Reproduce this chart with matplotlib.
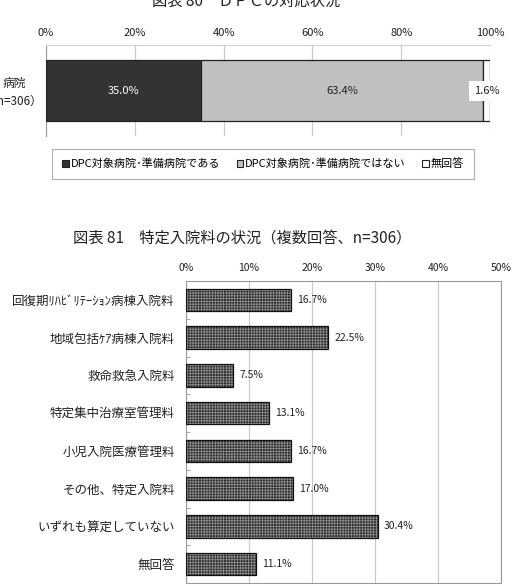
import matplotlib
matplotlib.use("Agg")
import matplotlib.pyplot as plt
from matplotlib.patches import Patch
import numpy as np

plt.rcParams['font.family'] = ['Noto Sans CJK JP', 'DejaVu Sans']
plt.rcParams['hatch.linewidth'] = 0.6

# ---- data: chart 80 ----
dpc_title = "図表 80　ＤＰＣの対応状況"
dpc_row_label = "病院\n（n=306）"
dpc_series = ["DPC対象病院･準備病院である", "DPC対象病院･準備病院ではない", "無回答"]
dpc_values = [35.0, 63.4, 1.6]
dpc_colors = ["#333333", "#c0c0c0", "#ffffff"]
dpc_ticks = [0, 20, 40, 60, 80, 100]

# ---- data: chart 81 ----
fee_title = "図表 81　特定入院料の状況（複数回答、n=306）"
fee_categories = ["回復期ﾘﾊﾋﾞﾘﾃｰｼｮﾝ病棟入院料", "地域包括ｹｱ病棟入院料", "救命救急入院料",
                  "特定集中治療室管理料", "小児入院医療管理料", "その他、特定入院料",
                  "いずれも算定していない", "無回答"]
fee_values = [16.7, 22.5, 7.5, 13.1, 16.7, 17.0, 30.4, 11.1]
fee_ticks = [0, 10, 20, 30, 40, 50]

W, H = 516, 586
fig = plt.figure(figsize=(W / 100, H / 100), dpi=100)

def fx(px):
    return px / W

def fy(py):
    return 1 - py / H

# ================= Chart 80 =================
ax1 = fig.add_axes([fx(46), fy(136), fx(490) - fx(46), (136 - 45) / H])
left = 0
for v, c, name in zip(dpc_values, dpc_colors, dpc_series):
    ax1.barh([0], [v], left=[left], height=1.0, color=c, edgecolor="#222222",
             linewidth=0.9, zorder=3, label=name)
    left += v
ax1.set_xlim(0, 100)
ax1.set_ylim(-0.75, 0.75)
ax1.xaxis.tick_top()
ax1.set_xticks(dpc_ticks)
ax1.set_xticklabels([f"{t}%" for t in dpc_ticks], fontsize=8, color="#222222")
ax1.tick_params(axis='x', length=0, pad=5)
ax1.set_yticks([])
ax1.grid(axis='x', color="#c8c8c8", linewidth=0.8, zorder=0)
for s in ["bottom", "right"]:
    ax1.spines[s].set_visible(False)
ax1.spines["top"].set_color("#d0d0d0")
ax1.spines["left"].set_color("#999999")
ax1.spines["left"].set_linewidth(0.8)

# value labels
starts = np.cumsum([0] + dpc_values[:-1])
ax1.text(starts[0] + dpc_values[0] / 2, 0, f"{dpc_values[0]:.1f}%", ha="center", va="center",
         fontsize=8, color="white", zorder=5)
ax1.text(starts[1] + dpc_values[1] / 2, 0, f"{dpc_values[1]:.1f}%", ha="center", va="center",
         fontsize=8, color="#222222", zorder=5)
ax1.text(starts[2] + dpc_values[2] / 2, 0, f"{dpc_values[2]:.1f}%", ha="center", va="center",
         fontsize=8, color="#222222", zorder=5,
         bbox=dict(boxstyle="square,pad=0.45", facecolor="white", edgecolor="none"))

fig.text(fx(14), fy(92), dpc_row_label, ha="center", va="center", fontsize=8.5,
         multialignment="center", color="#222222", linespacing=1.5)

fig.text(fx(246), fy(1), dpc_title, ha="center", va="center", fontsize=11, color="#222222")

handles = [Patch(facecolor=c, edgecolor="#222222", linewidth=0.8) for c in dpc_colors]
leg = fig.legend(handles, dpc_series, loc="center",
                 bbox_to_anchor=(fx(50), fy(183), fx(476) - fx(50), (183 - 145) / H),
                 ncol=3, fontsize=8, frameon=True, fancybox=False, handlelength=0.6,
                 handleheight=0.6, handletextpad=0.15, columnspacing=1.5, borderpad=0.9)
leg.get_frame().set_edgecolor("#999999")
leg.get_frame().set_linewidth(0.8)

# ================= Chart 81 =================
ax2 = fig.add_axes([fx(186), fy(583), fx(501) - fx(186), (583 - 281) / H])
y = np.arange(len(fee_categories))
ax2.barh(y, fee_values, height=0.6, color="#2a2a2a", edgecolor="#8c8c8c", hatch="++++++",
         linewidth=0, zorder=3)
ax2.barh(y, fee_values, height=0.6, fill=False, edgecolor="#111111", linewidth=0.9, zorder=4)
for yi, v in zip(y, fee_values):
    ax2.text(v + 1.0, yi, f"{v:.1f}%", ha="left", va="center", fontsize=7.5,
             color="#222222", zorder=5)
ax2.set_xlim(0, 50)
ax2.set_ylim(len(fee_categories) - 0.5, -0.5)
ax2.xaxis.tick_top()
ax2.set_xticks(fee_ticks)
ax2.set_xticklabels([f"{t}%" for t in fee_ticks], fontsize=7.5, color="#222222")
ax2.tick_params(axis='x', length=0, pad=6)
ax2.set_yticks(y)
ax2.set_yticklabels(fee_categories, fontsize=9, color="#222222")
ax2.tick_params(axis='y', length=0, pad=8)
ax2.set_yticks(np.arange(0.5, len(fee_categories) - 0.5, 1), minor=True)
ax2.tick_params(axis='y', which='minor', direction='in', length=3, color="#999999")
ax2.grid(axis='x', color="#c8c8c8", linewidth=0.8, zorder=0)
for s in ax2.spines.values():
    s.set_color("#999999")
    s.set_linewidth(0.8)

fig.text(fx(242), fy(238), fee_title, ha="center", va="center", fontsize=11, color="#222222")

fig.savefig("out.png", dpi=100, facecolor="white")
